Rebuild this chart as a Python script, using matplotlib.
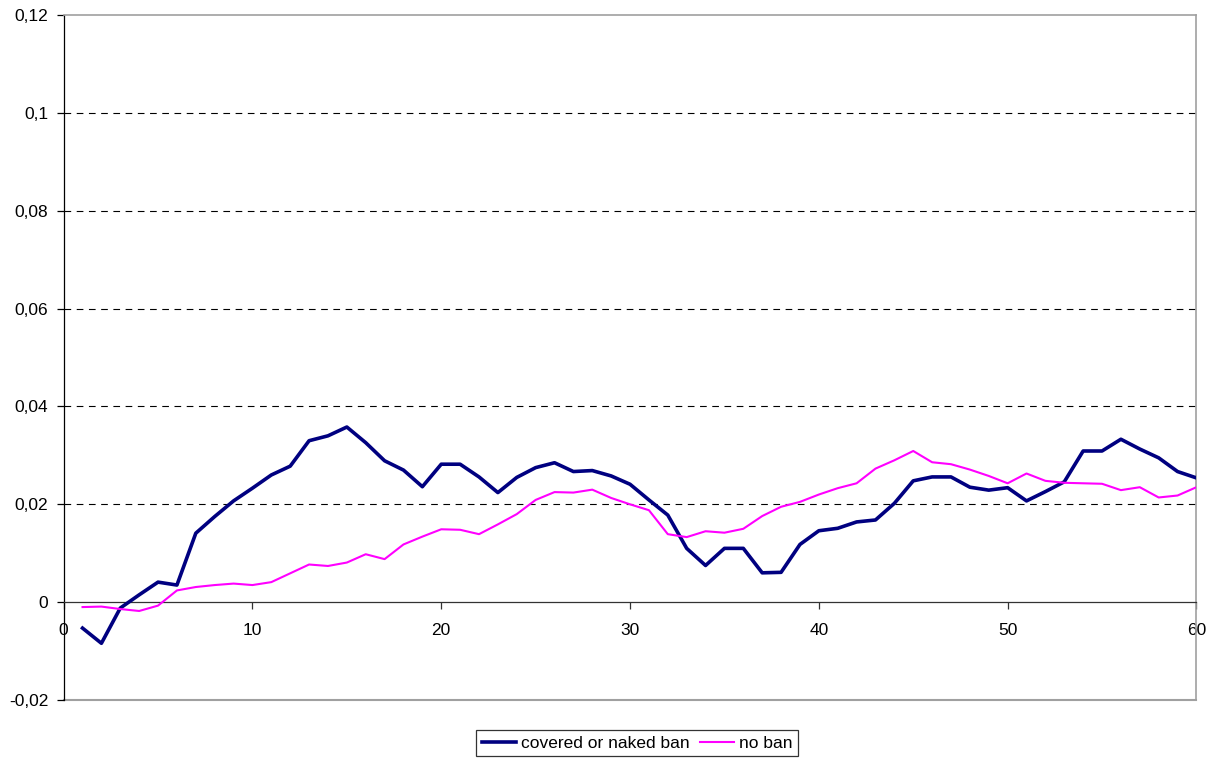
import matplotlib
matplotlib.use("Agg")
import matplotlib.pyplot as plt
from matplotlib.ticker import FuncFormatter

plt.rcParams['font.family'] = ['Liberation Sans', 'DejaVu Sans']

# Dữ liệu (x = 1..60)
days = list(range(1, 61))
covered_ban = [
    -0.0053, -0.0084, -0.0012, 0.0015, 0.0041, 0.0035, 0.0141, 0.0175, 0.0207, 0.0233,
    0.0260, 0.0278, 0.0330, 0.0340, 0.0358, 0.0326, 0.0289, 0.0270, 0.0236, 0.0282,
    0.0282, 0.0256, 0.0224, 0.0255, 0.0275, 0.0285, 0.0267, 0.0269, 0.0258, 0.0241,
    0.0209, 0.0178, 0.0110, 0.0075, 0.0110, 0.0110, 0.0060, 0.0061, 0.0118, 0.0146,
    0.0151, 0.0164, 0.0168, 0.0202, 0.0248, 0.0256, 0.0256, 0.0235, 0.0229, 0.0234,
    0.0207, 0.0226, 0.0246, 0.0309, 0.0309, 0.0333, 0.0313, 0.0295, 0.0267, 0.0254,
]
no_ban = [
    -0.0010, -0.0009, -0.0014, -0.0018, -0.0007, 0.0024, 0.0031, 0.0035, 0.0038, 0.0035,
    0.0041, 0.0059, 0.0077, 0.0074, 0.0081, 0.0098, 0.0088, 0.0118, 0.0134, 0.0149,
    0.0148, 0.0139, 0.0159, 0.0180, 0.0209, 0.0225, 0.0224, 0.0230, 0.0213, 0.0200,
    0.0188, 0.0139, 0.0133, 0.0145, 0.0142, 0.0150, 0.0176, 0.0195, 0.0205, 0.0220,
    0.0233, 0.0243, 0.0273, 0.0290, 0.0309, 0.0286, 0.0282, 0.0271, 0.0258, 0.0243,
    0.0263, 0.0248, 0.0244, 0.0243, 0.0242, 0.0229, 0.0235, 0.0214, 0.0218, 0.0235,
]
series_names = ['covered or naked ban', 'no ban']
x_ticks = [0, 10, 20, 30, 40, 50, 60]
y_ticks = [-0.02, 0, 0.02, 0.04, 0.06, 0.08, 0.1, 0.12]

fig = plt.figure(figsize=(12.17, 7.6), dpi=100)
ax = fig.add_axes([0.0523, 0.0789, 0.9308, 0.9013])

# Lưới ngang nét đứt
for y in y_ticks[2:-1]:
    ax.axhline(y, color='black', lw=0.8, ls=(0, (6, 5)), zorder=1)

ax.plot(days, covered_ban, color='#000080', lw=2.6, label=series_names[0], zorder=3)
ax.plot(days, no_ban, color='#FF00FF', lw=1.5, label=series_names[1], zorder=3)

ax.set_xlim(0, 60)
ax.set_ylim(-0.02, 0.12)
ax.set_xticks(x_ticks)
ax.set_yticks(y_ticks)

fmt = FuncFormatter(lambda v, p: ('%g' % round(v, 4)).replace('.', ','))
ax.yaxis.set_major_formatter(fmt)

# Trục x nằm tại y = 0
ax.spines['bottom'].set_position(('data', 0))
ax.spines['bottom'].set_color('#333333')
ax.spines['bottom'].set_linewidth(0.9)
ax.spines['left'].set_color('black')
ax.spines['left'].set_linewidth(0.9)
for s in ['top', 'right']:
    ax.spines[s].set_color('#A0A0A0')
    ax.spines[s].set_linewidth(1.2)
ax.axhline(-0.02, color='#A0A0A0', lw=1.5, clip_on=False, zorder=0)

ax.tick_params(axis='x', direction='out', length=5, width=0.9, pad=10, labelsize=12.5, color='#333333')
ax.tick_params(axis='y', direction='out', length=5, width=0.9, pad=6, labelsize=12.5)

leg = ax.legend(loc='center', bbox_to_anchor=(637 / 1217, 1 - 743 / 760),
                bbox_transform=fig.transFigure, ncol=2, frameon=True, fancybox=False,
                fontsize=12.5, handlelength=2.0, handletextpad=0.25, columnspacing=0.6,
                borderpad=0.3, borderaxespad=0)
leg.get_frame().set_edgecolor('black')
leg.get_frame().set_linewidth(0.9)

fig.savefig('out.png', dpi=100)
